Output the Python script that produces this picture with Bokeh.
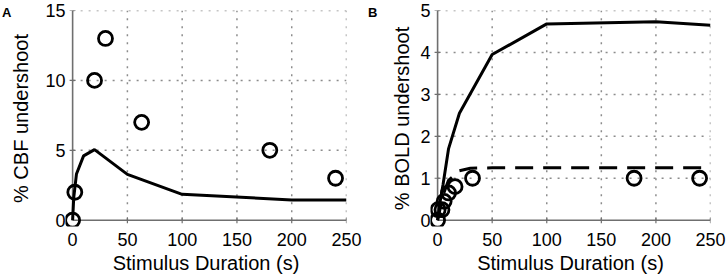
from bokeh.plotting import figure
from bokeh.layouts import row
from bokeh.models import FixedTicker, Range1d, Div
from bokeh.embed import file_html
from bokeh.resources import INLINE

# Panel A: CBF undershoot
a_obs_x = [0, 2, 20, 30, 63, 180, 240]
a_obs_y = [0, 2, 10, 13, 7, 5, 3]
a_mod_x = [0, 1, 3.5, 10, 20, 50, 100, 200, 250]
a_mod_y = [0, 1.6, 3.3, 4.6, 5.05, 3.28, 1.85, 1.45, 1.45]
a_yticks = [0, 5, 10, 15]

# Panel B: BOLD undershoot
b_obs_x = [0, 0.5, 4, 6, 10, 16, 32, 180, 240]
b_obs_y = [0, 0.25, 0.25, 0.45, 0.65, 0.8, 1.0, 1.0, 1.0]
b_mod_x = [0, 2, 5, 10, 20, 50, 100, 200, 250]
b_mod_y = [0, 0.4, 0.85, 1.7, 2.55, 3.95, 4.68, 4.73, 4.65]
b_dash_x = [0, 5, 10, 20, 30, 50, 100, 200, 250]
b_dash_y = [0, 0.6, 0.95, 1.18, 1.24, 1.25, 1.25, 1.25, 1.25]
b_yticks = [0, 1, 2, 3, 4, 5]

x_ticks = [0, 50, 100, 150, 200, 250]
FONT = "Liberation Sans"


def make_fig(width, left, right, ymin, yticks, ylabel, ylabel_standoff):
    xmax = x_ticks[-1]
    ymax = yticks[-1]
    p = figure(width=width, height=276, output_backend="svg", toolbar_location=None,
               x_range=Range1d(-6.5, xmax), y_range=Range1d(ymin, ymax),
               min_border_left=left, min_border_right=right,
               min_border_top=10, min_border_bottom=40)
    p.outline_line_color = None
    p.background_fill_color = "white"
    p.border_fill_color = None
    p.xgrid.visible = False
    p.ygrid.visible = False
    for ax, ticks in ((p.xaxis[0], x_ticks), (p.yaxis[0], yticks)):
        ax.ticker = FixedTicker(ticks=ticks)
        ax.axis_line_color = None
        ax.major_tick_line_color = None
        ax.major_tick_in = 0
        ax.major_tick_out = 0
        ax.minor_tick_line_color = None
        ax.minor_tick_in = 0
        ax.minor_tick_out = 0
        ax.major_label_text_font = FONT
        ax.major_label_text_font_size = "18px"
        ax.major_label_text_color = "black"
        ax.axis_label_text_font = FONT
        ax.axis_label_text_font_size = "20px"
        ax.axis_label_text_font_style = "normal"
        ax.axis_label_text_color = "black"
    p.xaxis.axis_label = "Stimulus Duration (s)"
    p.yaxis.axis_label = ylabel
    p.xaxis.major_label_standoff = 6
    p.xaxis.axis_label_standoff = 3
    p.yaxis.major_label_standoff = 0
    p.yaxis.axis_label_standoff = ylabel_standoff

    # dotted grid lines from the tick values
    gx = x_ticks[1:]
    p.segment(x0=gx, y0=[0] * len(gx), x1=gx, y1=[ymax] * len(gx),
              line_color="#8c8c8c", line_width=1.5, line_dash="2 6")
    gy = yticks[1:]
    p.segment(x0=[0] * len(gy), y0=gy, x1=[xmax] * len(gy), y1=gy,
              line_color="#8c8c8c", line_width=1.5, line_dash="2 6")
    # axis lines at x=0 and y=0
    p.segment(x0=[0, 0], y0=[0, 0], x1=[0, xmax], y1=[ymax, 0],
              line_color="#6f6f6f", line_width=1.6)
    # small inward ticks
    p.scatter(x=x_ticks[1:], y=[0] * (len(x_ticks) - 1), marker="dash", angle=1.5708,
              size=6, line_color="#6f6f6f", line_width=1.2)
    p.scatter(x=[0] * (len(yticks) - 1), y=yticks[1:], marker="dash",
              size=6, line_color="#6f6f6f", line_width=1.2)
    return p


pa = make_fig(364, 65, 18, -0.45, a_yticks, "% CBF undershoot", 10)
pa.line(a_mod_x, a_mod_y, line_color="black", line_width=3)
pa.scatter(a_obs_x, a_obs_y, marker="circle", size=14, fill_color=None,
           line_color="black", line_width=2.8)

pb = make_fig(363, 66, 17, -0.15, b_yticks, "% BOLD undershoot", 4)
pb.line(b_mod_x, b_mod_y, line_color="black", line_width=3)
pb.line(b_dash_x, b_dash_y, line_color="black", line_width=3, line_dash="18 10")
pb.scatter(b_obs_x, b_obs_y, marker="circle", size=14, fill_color=None,
           line_color="black", line_width=2.8)

lab_style = "font-family: 'Liberation Sans'; font-weight: bold; font-size: 13px; line-height: 13px; margin: 0; padding: 0;"
div_a = Div(text=f'<div style="{lab_style}">A</div>', width=12, height=14, margin=0,
            styles={"position": "absolute", "left": "2px", "top": "5px"})
div_b = Div(text=f'<div style="{lab_style}">B</div>', width=12, height=14, margin=0,
            styles={"position": "absolute", "left": "368px", "top": "5px"})

layout = row(pa, pb, div_a, div_b, spacing=0)
open("out.html", "w").write(file_html(layout, INLINE))
